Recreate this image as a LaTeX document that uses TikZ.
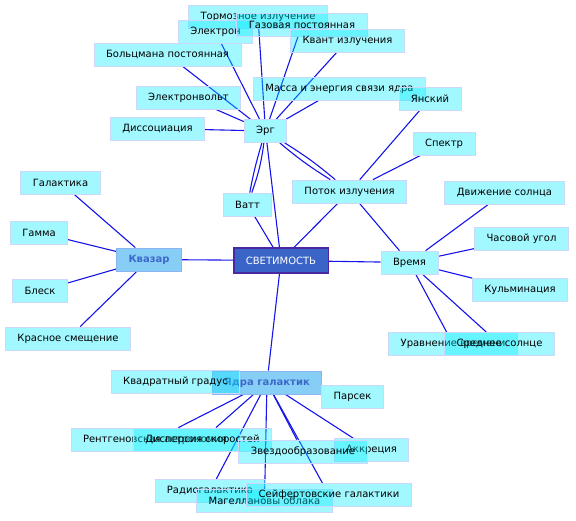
\documentclass[tikz,border=0pt]{standalone}
\usepackage{fontspec}
\setmainfont{DejaVu Sans}
\usepackage{xcolor}
\usepackage{tikz}
\usetikzlibrary{backgrounds}

\definecolor{leaffill}{RGB}{0,236,255}
\definecolor{leafline}{RGB}{205,215,252}
\definecolor{hubfill}{RGB}{0,150,235}
\definecolor{hubline}{RGB}{140,180,240}
\definecolor{hubtext}{RGB}{60,105,200}
\definecolor{rootfill}{RGB}{58,100,200}
\definecolor{rootline}{RGB}{75,40,160}
\definecolor{linkblue}{RGB}{20,20,235}

\begin{document}
\begin{tikzpicture}[
    x=1pt,y=1pt,
    link/.style={draw=linkblue, line width=1.1pt},
    leaf/.style={
        draw=leafline,
        line width=0.8pt,
        fill=leaffill,
        fill opacity=0.37,
        text opacity=1,
        inner xsep=12pt,
        minimum height=23pt,
        font=\fontsize{10}{12}\selectfont
    },
    hubbox/.style={
        leaf,
        draw=hubline,
        fill=hubfill,
        fill opacity=0.47,
        text=hubtext,
        font=\fontsize{10}{12}\selectfont\bfseries
    },
    rootbox/.style={
        draw=rootline,
        line width=1.2pt,
        fill=rootfill,
        text=white,
        inner xsep=12pt,
        minimum height=25pt,
        font=\fontsize{10}{12}\selectfont
    }
]
\useasboundingbox (0,0) rectangle (576,-520);

% ===== centre =====
\node[rootbox] (svet) at (281,-260.5) {СВЕТИМОСТЬ};

% ===== Эрг branch =====
\node[leaf] (tormoz)   at (258,-17)     {Тормозное излучение};
\node[leaf] (elektron) at (215.5,-32)   {Электрон};
\node[leaf] (gazovaya) at (302,-25)     {Газовая постоянная};
\node[leaf] (kvant)    at (347.5,-40.5) {Квант излучения};
\node[leaf] (bolcman)  at (167.5,-54.5) {Больцмана постоянная};
\node[leaf] (massa)    at (339.5,-88.5) {Масса и энергия связи ядра};
\node[leaf] (yansky)   at (430,-98.5)   {Янский};
\node[leaf] (evolt)    at (188.5,-97.5) {Электронвольт};
\node[leaf] (dissoc)   at (157.5,-128.5){Диссоциация};
\node[leaf] (erg)      at (265.5,-131)  {Эрг};
\node[leaf] (vatt)     at (247.5,-204.5){Ватт};
\node[leaf] (spektr)   at (444,-143.5)  {Спектр};
\node[leaf] (potok)    at (349.5,-191.5){Поток излучения};

% ===== Квазар branch =====
\node[leaf] (galaktika) at (60.5,-182.5) {Галактика};
\node[leaf] (gamma)     at (39,-232.5)   {Гамма};
\node[hubbox] (kvazar)  at (149,-259.5)  {Квазар};
\node[leaf] (blesk)     at (40,-291)     {Блеск};
\node[leaf] (krasnoe)   at (68,-338.5)   {Красное смещение};

% ===== Время branch =====
\node[leaf] (dvizh)  at (504.5,-192.5) {Движение солнца};
\node[leaf] (chas)   at (521.5,-238.5) {Часовой угол};
\node[leaf] (vremya) at (409.5,-262.5) {Время};
\node[leaf] (kulm)   at (520,-290)     {Кульминация};
\node[leaf] (uravn)  at (453,-344)     {Уравнение времени};
\node[leaf] (sredn)  at (499.5,-344)   {Среднее солнце};

% ===== Ядра галактик branch =====
\node[hubbox] (yadra) at (267,-382.5)  {Ядра галактик};
\node[leaf] (kvadrat) at (175.5,-381.5) {Квадратный градус};
\node[leaf] (parsek)  at (352.5,-396.5) {Парсек};
\node[leaf] (rentgen) at (155,-439.5)   {Рентгеновская астрономия};
\node[leaf] (dispers) at (202.5,-439.5) {Дисперсия скоростей};
\node[leaf] (akkr)    at (371.5,-450)   {Аккреция};
\node[leaf] (zvezd)   at (303,-451.5)   {Звездообразование};
\node[leaf] (radio)   at (210,-491)     {Радиогалактика};
\node[leaf] (magel)   at (264.5,-501)   {Магеллановы облака};
\node[leaf] (seyf)    at (329,-495)     {Сейфертовские галактики};

% ===== connectors (behind the boxes) =====
\begin{pgfonlayer}{background}
\foreach \a/\b in {svet/kvazar, svet/vremya, svet/yadra, svet/erg, svet/vatt, svet/potok,
                   erg/tormoz, erg/elektron, erg/gazovaya, erg/kvant, erg/bolcman,
                   erg/massa, erg/evolt, erg/dissoc,
                   potok/yansky, potok/spektr, potok/vremya,
                   kvazar/galaktika, kvazar/gamma, kvazar/blesk, kvazar/krasnoe,
                   vremya/dvizh, vremya/chas, vremya/kulm, vremya/uravn, vremya/sredn,
                   yadra/rentgen, yadra/dispers, yadra/radio, yadra/magel,
                   yadra/zvezd, yadra/seyf, yadra/akkr}
  \draw[link] (\a) -- (\b);

% double links
\draw[link] (erg) to[bend left=6] (vatt);
\draw[link] (erg) to[bend right=3] (vatt);
\draw[link] (erg) to[bend left=4] (potok);
\draw[link] (erg) to[bend right=4] (potok);
\end{pgfonlayer}
\end{tikzpicture}
\end{document}
